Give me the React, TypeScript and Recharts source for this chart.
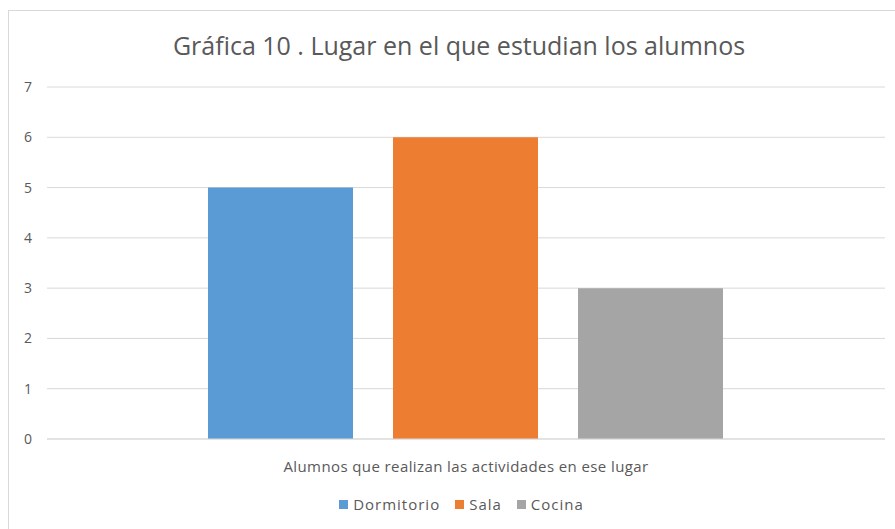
import React from 'react';
import { BarChart, Bar, XAxis, YAxis, CartesianGrid, Legend } from 'recharts';

const categories = ['Alumnos que realizan las actividades en ese lugar'];
const seriesNames = ['Dormitorio', 'Sala', 'Cocina'];
const dormitorio = [5];
const sala = [6];
const cocina = [3];
const yTicks = [0, 1, 2, 3, 4, 5, 6, 7];
const colors = ['#5B9BD5', '#ED7D31', '#A5A5A5'];

const data = categories.map((c, i) => ({
  name: c,
  Dormitorio: dormitorio[i],
  Sala: sala[i],
  Cocina: cocina[i],
}));

const FONT = '"Open Sans", sans-serif';
const TXT = '#595959';

const XTick = (props: any) => {
  const { x, y, payload } = props;
  return (
    <text x={x} y={y + 25} textAnchor="middle" fill={TXT} fontFamily={FONT} fontSize={15} letterSpacing={0.4}>
      {payload.value}
    </text>
  );
};

const LegendContent = (props: any) => {
  const payload = [...(props.payload || [])].sort(
    (a: any, b: any) => seriesNames.indexOf(a.value) - seriesNames.indexOf(b.value)
  );
  return (
    <div style={{ display: 'flex', justifyContent: 'center', gap: 15, height: 20, alignItems: 'center', fontFamily: FONT, fontSize: 15, letterSpacing: 1.0, color: TXT }}>
      {payload.map((p: any, i: number) => (
        <div key={i} style={{ display: 'flex', alignItems: 'center' }}>
          <div style={{ width: 9, height: 9, background: p.color, marginRight: 5 }} />
          <span>{p.value}</span>
        </div>
      ))}
    </div>
  );
};

export default function App() {
  return (
    <div style={{ position: 'absolute', left: 0, top: 0, width: 895, height: 529, overflow: 'hidden', background: '#fff' }}>
      <div style={{ position: 'absolute', left: 8, top: 10, width: 1000, height: 1000, border: '1px solid #d9d9d9', boxSizing: 'border-box' }} />
      <div style={{ position: 'absolute', left: 0, top: 27, width: 918, textAlign: 'center', fontFamily: FONT, fontSize: 25, color: TXT, lineHeight: '36px' }}>
        Gráfica 10 . Lugar en el que estudian los alumnos
      </div>
      <div style={{ position: 'absolute', left: 0, top: 0 }}>
        <BarChart
          width={895}
          height={529}
          data={data}
          margin={{ top: 87, right: 10, left: 17, bottom: 40 }}
          barCategoryGap={161}
          barGap={40}
        >
          <CartesianGrid vertical={false} stroke="#d9d9d9" />
          <XAxis dataKey="name" height={30} axisLine={{ stroke: '#d9d9d9' }} tickLine={false} tick={<XTick />} interval={0} />
          <YAxis
            width={30}
            domain={[0, 7]}
            ticks={yTicks}
            axisLine={false}
            tickLine={false}
            tickMargin={9}
            tick={{ fill: TXT, fontFamily: FONT, fontSize: 14 }}
          />
          <Legend verticalAlign="bottom" content={<LegendContent />} wrapperStyle={{ left: 14, width: 895, top: 494 }} />
          {seriesNames.map((s, i) => (
            <Bar key={s} dataKey={s} fill={colors[i]} isAnimationActive={false} />
          ))}
        </BarChart>
      </div>
    </div>
  );
}
